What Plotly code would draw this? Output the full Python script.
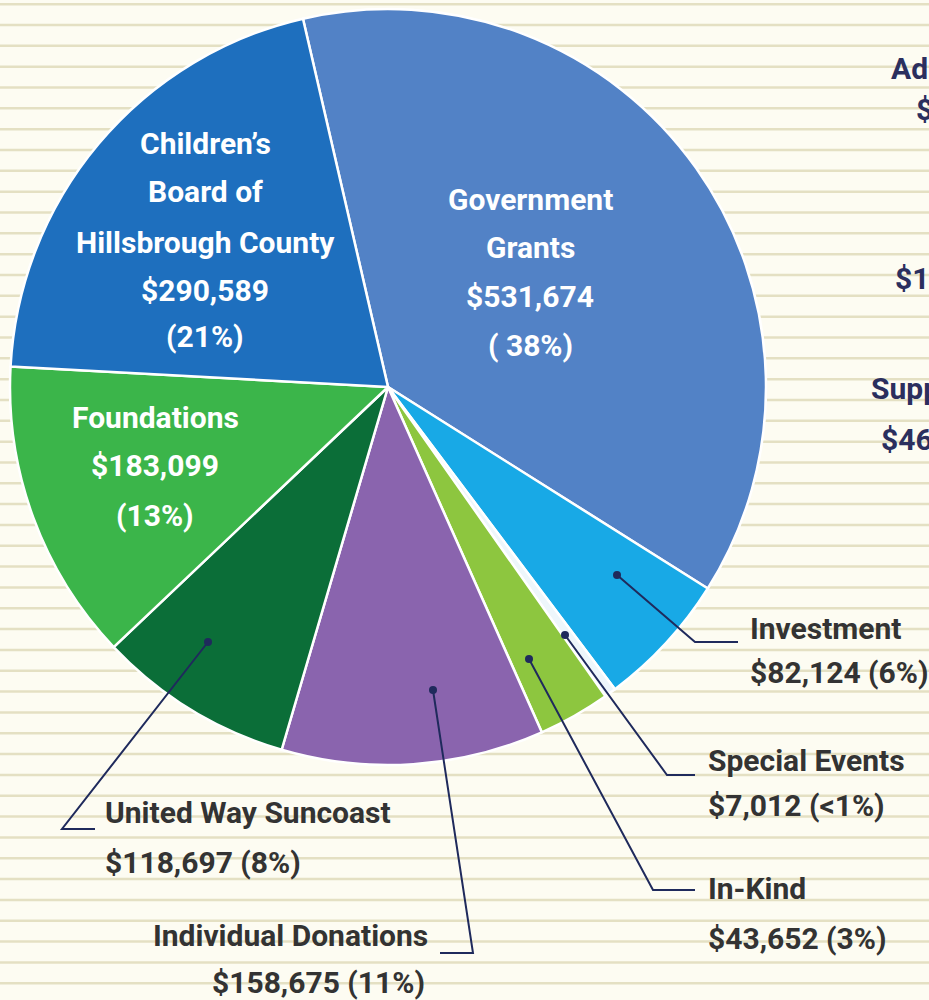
import plotly.graph_objects as go

W, H = 929, 1000

# ---------------- data ----------------
categories = ["Government Grants", "Investment", "Special Events", "In-Kind",
              "Individual Donations", "United Way Suncoast", "Foundations",
              "Children's Board of Hillsbrough County"]
values = [531674, 82124, 7012, 43652, 158675, 118697, 183099, 290589]
pct_labels = ["( 38%)", "(6%)", "(<1%)", "(3%)", "(11%)", "(8%)", "(13%)", "(21%)"]
colors = ["#5282c6", "#18a9e6", "#eef6fb", "#8dc63f", "#8a64ae", "#0b6e38",
          "#3bb54a", "#1e6fbe"]


def fx(x):
    return x / W


def fy(y):
    return 1 - y / H


def money(v):
    return "${:,}".format(v)


FONT = "Roboto, Liberation Sans, sans-serif"
DARK = "#333333"
NAVY = "#1f2a5c"

fig = go.Figure(go.Pie(
    labels=categories, values=values, sort=False, direction="clockwise",
    rotation=-13, textinfo="none", hoverinfo="label+value+percent",
    marker=dict(colors=colors, line=dict(color="white", width=2.5)),
    domain=dict(x=[fx(10), fx(766)], y=[fy(765), fy(9)]),
    showlegend=False,
))

shapes = []
# striped background
y = 4.2
while y < H + 5:
    shapes.append(dict(type="line", xref="paper", yref="paper", x0=0, x1=1,
                       y0=fy(y), y1=fy(y), layer="below",
                       line=dict(color="#e4e0c3", width=2.5)))
    y += 20.83

annotations = []


def add_text(x, y, txt, color, size=30, anchor="center"):
    annotations.append(dict(x=fx(x), y=fy(y), xref="paper", yref="paper",
                            text="<b>" + txt + "</b>", showarrow=False,
                            xanchor=anchor, yanchor="middle",
                            font=dict(family=FONT, size=size, color=color)))


# inside labels
i_gov, i_inv, i_spe, i_ink, i_ind, i_uw, i_fnd, i_cb = range(8)
inside = [
    (530, [200, 247, 297, 345], ["Government", "Grants", money(values[i_gov]), pct_labels[i_gov]]),
    (205, [143, 192, 242, 290, 337], ["Children\u2019s", "Board of", "Hillsbrough County",
                                      money(values[i_cb]), pct_labels[i_cb]]),
    (155, [418, 466, 515], ["Foundations", money(values[i_fnd]), pct_labels[i_fnd]]),
]
for cx, ys, lines in inside:
    for yy, ln in zip(ys, lines):
        add_text(cx, yy, ln, "white", 30)

# outside labels with leader lines
outside = [
    # idx, dot, elbow, end, text x, anchor, y1, y2, line2 x
    (i_inv, (617, 575), (695, 642), (738, 642), 748, "left", 628, 672, 748),
    (i_spe, (565, 635), (667, 775), (695, 775), 706, "left", 760, 805, 706),
    (i_ink, (529, 659), (653, 890), (695, 890), 706, "left", 888, 938, 706),
    (i_uw, (208, 642), (62, 829), (95, 829), 103, "left", 812, 862, 103),
    (i_ind, (433, 690), (473, 953), (440, 953), 430, "right", 935, 982, 427),
]
for idx, d, e, en, tx, anc, y1, y2, tx2 in outside:
    shapes.append(dict(type="path", xref="paper", yref="paper",
                       path="M {} {} L {} {} L {} {}".format(fx(d[0]), fy(d[1]), fx(e[0]), fy(e[1]),
                                                             fx(en[0]), fy(en[1])),
                       line=dict(color=NAVY, width=2)))
    r = 4
    shapes.append(dict(type="circle", xref="paper", yref="paper",
                       x0=fx(d[0] - r), x1=fx(d[0] + r), y0=fy(d[1] - r), y1=fy(d[1] + r),
                       fillcolor=NAVY, line=dict(color=NAVY, width=0)))
    name = categories[idx]
    add_text(tx, y1, name, DARK, 30, anc)
    add_text(tx2, y2, money(values[idx]) + " " + pct_labels[idx], DARK, 30, anc)

# partially visible neighbouring chart text (cut at the right edge)
partial = [(889, 68, "Adm"), (914, 110, "$1"), (893, 278, "$1,"), (869, 388, "Supp"), (879, 440, "$46,")]
for x, yy, t in partial:
    add_text(x, yy, t, "#2b2f5e", 30, "left")

fig.update_layout(width=W, height=H, margin=dict(l=0, r=0, t=0, b=0),
                  paper_bgcolor="#fdfcf2", plot_bgcolor="#fdfcf2",
                  shapes=shapes, annotations=annotations)

fig.write_html("out.html", config={"displayModeBar": False},
               post_script="document.body.style.margin='0';"
                           "document.documentElement.style.overflow='hidden';")
